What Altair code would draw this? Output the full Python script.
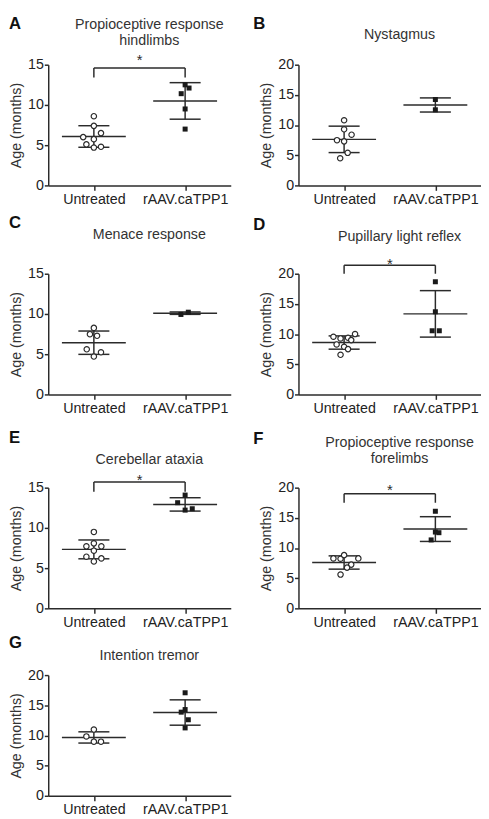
import altair as alt
import pandas as pd

FONT = "Liberation Sans"
INK = "#2b2b2b"

GROUPS = ["Untreated", "rAAV.caTPP1"]
LETTERS = ["A", "B", "C", "D", "E", "F", "G"]
TITLES = [
    ["Propioceptive response", "hindlimbs"],
    ["Nystagmus"],
    ["Menace response"],
    ["Pupillary light reflex"],
    ["Cerebellar ataxia"],
    ["Propioceptive response", "forelimbs"],
    ["Intention tremor"],
]
Y_TITLE = "Age (months)"
YMAX = [15, 20, 15, 20, 15, 20, 20]
YTICKS_15 = [0, 5, 10, 15]
YTICKS_20 = [0, 5, 10, 15, 20]

# individual animals (months)
UNTREATED = [
    [8.6, 7.4, 6.0, 6.5, 5.75, 5.1, 4.7, 4.8],
    [10.8, 9.3, 8.4, 7.5, 7.3, 5.4, 4.5],
    [8.27, 7.49, 7.29, 5.61, 4.71, 5.24],
    [9.56, 9.28, 9.39, 10.0, 9.0, 8.29, 7.9, 7.51, 6.57],
    [9.5, 8.08, 7.71, 7.71, 7.17, 6.42, 6.21, 5.83],
    [8.28, 8.22, 8.82, 8.28, 7.25, 6.75, 5.6],
    [10.98, 9.84, 8.97, 8.97],
]
UNTREATED_JITTER = [
    [0, 0, -0.117, 0.078, 0, -0.082, 0, 0.078],
    [0, 0, 0.082, -0.078, 0, 0.039, -0.043],
    [0, -0.043, 0.035, -0.078, 0, 0.078],
    [-0.117, -0.039, 0.043, 0.12, 0.078, -0.082, 0, 0.043, -0.039],
    [0, 0, -0.082, 0.082, 0, -0.082, 0.082, 0],
    [-0.117, -0.039, 0, 0.156, 0.078, 0.032, -0.039],
    [0, -0.082, 0, 0.078],
]
TREATED = [
    [12.5, 12.1, 11.4, 9.5, 7.0],
    [14.24, 12.53],
    [9.94, 10.22],
    [18.67, 13.7, 10.55, 10.55],
    [14.08, 13.13, 12.21, 12.38],
    [16.09, 12.65, 12.54, 11.34],
    [17.07, 14.29, 13.86, 12.6, 11.25],
]
TREATED_JITTER = [
    [0, 0.043, -0.043, 0, 0],
    [0, 0],
    [-0.046, 0.035],
    [0, 0, -0.035, 0.043],
    [0, -0.082, 0, 0.078],
    [0, 0, 0.039, -0.046],
    [0, 0, -0.043, 0.035, 0],
]
MEAN_U = [6.08, 7.63, 6.43, 8.6, 7.33, 7.6, 9.67]
SD_U = [1.34, 2.19, 1.45, 1.1, 1.17, 1.1, 0.93]
MEAN_T = [10.5, 13.33, 10.1, 13.35, 12.92, 13.14, 13.8]
SD_T = [2.27, 1.17, 0.15, 3.85, 0.83, 2.05, 2.1]

# significance brackets (None = no bracket)
SIG_TOP = [14.6, None, None, 21.4, 15.7, 19.0, None]
SIG_FOOT = [13.4, None, None, 20.0, 14.5, 17.5, None]
SIG_STAR = [15.6, None, None, 21.6, 16.0, 19.6, None]

# ---- layout / style ----
W, H = 186, 123
ROW_OF = [0, 0, 1, 1, 2, 2, 3]
COL_OF = [0, 1, 0, 1, 0, 1, 0]
ROW_TOP = [49, 66, 71, 44]        # invisible frame above plot, per row
BOTTOM = 24                       # invisible frame below plot
FRAME_LEFT = [40, 51]             # invisible frame left of plot, per column
FRAME_RIGHT = [W + 2, W]
LETTER_X = [-40, -46]
LETTER_Y = [-49, -49, -60, -58, -59, -58, -41]
TITLE_Y = [[-40, -24], [-30], [-39], [-37], [-28], [-45, -29], [-19]]
MEAN_HALF = 0.35
CAP_HALF = 0.17
FS = 14.5

label_expr = " : ".join(
    [f"datum.value == {i} ? '{g}'" for i, g in enumerate(GROUPS[:-1])] + [f"'{GROUPS[-1]}'"]
)

one_row = alt.Data(values=[{"k": 0}])


def panel(i):
    ymax = YMAX[i]
    xs = alt.Scale(domain=[-0.5, 1.5], nice=False, zero=False)
    ys = alt.Scale(domain=[0, ymax], nice=False, zero=False)
    xaxis = alt.Axis(values=[0, 1], labelExpr=label_expr, title=None, grid=False,
                     tickSize=5, labelPadding=2, labelFlush=False)
    yaxis = alt.Axis(values=YTICKS_15 if ymax == 15 else YTICKS_20, title=Y_TITLE,
                     grid=False, tickSize=4, labelPadding=1, titlePadding=4,
                     labelFlush=False, format="d")

    def X(f):
        return alt.X(f, type="quantitative", scale=xs, axis=xaxis)

    def Y(f):
        return alt.Y(f, type="quantitative", scale=ys, axis=yaxis)

    pts_u = pd.DataFrame({"x": [0 + j for j in UNTREATED_JITTER[i]], "y": UNTREATED[i]})
    pts_t = pd.DataFrame({"x": [1 + j for j in TREATED_JITTER[i]], "y": TREATED[i]})

    means = [MEAN_U[i], MEAN_T[i]]
    sds = [SD_U[i], SD_T[i]]
    hrows = []
    vrows = []
    for g in (0, 1):
        m, s = means[g], sds[g]
        hrows.append({"x": g - MEAN_HALF, "x2": g + MEAN_HALF, "y": m})
        hrows.append({"x": g - CAP_HALF, "x2": g + CAP_HALF, "y": m + s})
        hrows.append({"x": g - CAP_HALF, "x2": g + CAP_HALF, "y": m - s})
        vrows.append({"x": g, "y": m - s, "y2": m + s})

    hbars = alt.Chart(pd.DataFrame(hrows)).mark_rule(color=INK, strokeWidth=1.5).encode(
        x=X("x"), x2="x2:Q", y=Y("y"))
    vbars = alt.Chart(pd.DataFrame(vrows)).mark_rule(color=INK, strokeWidth=1.5).encode(
        x=X("x"), y=Y("y"), y2="y2:Q")
    circ = alt.Chart(pts_u).mark_point(shape="circle", filled=False, fill="white",
                                       fillOpacity=1, stroke=INK, strokeWidth=1.2,
                                       size=30, opacity=1).encode(x=X("x"), y=Y("y"))
    sq = alt.Chart(pts_t).mark_square(color="#1a1a1a", size=26, opacity=1).encode(
        x=X("x"), y=Y("y"))

    layers = [hbars, vbars, circ, sq]

    if SIG_TOP[i] is not None:
        top, foot, star = SIG_TOP[i], SIG_FOOT[i], SIG_STAR[i]
        bh = alt.Chart(pd.DataFrame([{"x": 0, "x2": 1, "y": top}])).mark_rule(
            color=INK, strokeWidth=1.5).encode(x=X("x"), x2="x2:Q", y=Y("y"))
        bv = alt.Chart(pd.DataFrame([{"x": 0, "y": foot, "y2": top},
                                     {"x": 1, "y": foot, "y2": top}])).mark_rule(
            color=INK, strokeWidth=1.5).encode(x=X("x"), y=Y("y"), y2="y2:Q")
        st = alt.Chart(pd.DataFrame([{"x": 0.5, "y": star, "t": "*"}])).mark_text(
            font=FONT, fontSize=15, color=INK, baseline="middle", align="center").encode(
            x=X("x"), y=Y("y"), text="t:N")
        layers += [bh, bv, st]

    col = COL_OF[i]
    row = ROW_OF[i]
    # invisible frame that fixes the panel's outer extent
    for fy in (-ROW_TOP[row], H + BOTTOM):
        layers.append(alt.Chart(one_row).mark_rule(opacity=0, strokeWidth=1).encode(
            x=alt.value(-FRAME_LEFT[col]), x2=alt.value(FRAME_RIGHT[col]), y=alt.value(fy)))

    letter = alt.Chart(one_row).mark_text(
        text=LETTERS[i], font=FONT, fontSize=17, fontWeight="bold", color="#111",
        align="left", baseline="top").encode(
        x=alt.value(LETTER_X[col]), y=alt.value(LETTER_Y[i]))
    layers.append(letter)
    for line, yy in zip(TITLES[i], TITLE_Y[i]):
        layers.append(alt.Chart(one_row).mark_text(
            text=line, font=FONT, fontSize=FS, color="#333", align="center",
            baseline="middle").encode(x=alt.value(W / 2 + 10), y=alt.value(yy)))

    return alt.layer(*layers).properties(width=W, height=H)


panels = [panel(i) for i in range(7)]
rows = [
    alt.hconcat(panels[0], panels[1], spacing=16),
    alt.hconcat(panels[2], panels[3], spacing=16),
    alt.hconcat(panels[4], panels[5], spacing=16),
    panels[6],
]
chart = alt.vconcat(*rows, spacing=0).properties(padding=0).configure_view(
    stroke=None
).configure_axis(
    domainColor=INK, domainWidth=1.5, tickColor=INK, tickWidth=1.5,
    labelFont=FONT, labelFontSize=FS, labelColor="#222",
    titleFont=FONT, titleFontSize=FS, titleFontWeight="normal", titleColor="#333",
)

chart.save("out.html", embed_options={"renderer": "svg", "actions": False})
